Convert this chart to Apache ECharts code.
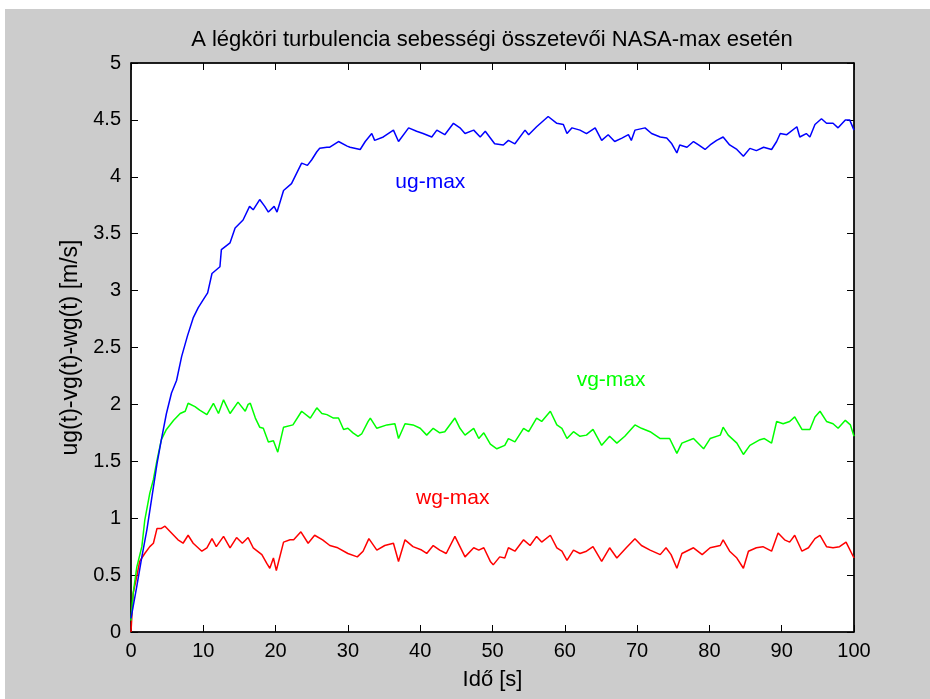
<!DOCTYPE html>
<html><head><meta charset="utf-8">
<script src="https://cdn.jsdelivr.net/npm/echarts@6/dist/echarts.min.js"></script>
<style>
html,body{margin:0;padding:0;background:#fff;}
#bg{position:absolute;left:5px;top:9px;width:925px;height:690px;background:#cccccc;}
#c{position:absolute;left:0;top:0;width:930px;height:699px;}
</style>
</head><body><div id="bg"></div><div id="c"></div>
<script>
const titleText = 'A légköri turbulencia sebességi összetevői NASA-max esetén';
const xName = 'Idő [s]';
const yName = 'ug(t)-vg(t)-wg(t) [m/s]';
const seriesNames = ['ug-max', 'vg-max', 'wg-max'];

const ugTime = [0,0.8,1.5,2.2,2.9,3.6,4.2,4.9,5.6,6.3,7.0,7.8,8.6,9.3,10.0,10.6,11.2,12.3,12.5,13.7,14.4,15.5,16.4,16.9,17.8,18.5,19.0,19.8,20.2,21.1,22.2,22.9,23.6,24.4,25.0,25.7,26.1,27.1,27.5,28.7,29.9,30.3,31.7,32.4,33.3,33.7,34.9,36.3,37.0,38.4,39.5,40.4,41.6,42.3,43.4,44.6,45.5,46.2,47.4,48.3,49.0,50.3,51.5,52.2,53.1,54.5,55.0,56.1,57.7,58.9,59.8,60.3,61.0,62.1,63.0,64.2,65.1,66.0,66.9,67.9,68.8,69.2,69.7,71.1,72.0,73.2,74.1,74.8,75.5,75.9,76.9,77.8,78.5,79.4,80.1,81.0,81.9,82.8,83.8,84.7,85.6,86.5,87.5,88.6,89.3,89.8,90.7,92.1,92.5,93.4,93.9,94.6,95.5,96.2,97.1,97.8,98.8,99.4,100];
const ugValue = [0.12,0.40,0.66,0.90,1.19,1.48,1.69,1.92,2.10,2.21,2.42,2.60,2.76,2.85,2.92,2.98,3.15,3.21,3.36,3.42,3.55,3.62,3.74,3.71,3.80,3.74,3.69,3.74,3.69,3.88,3.94,4.03,4.12,4.10,4.15,4.22,4.25,4.26,4.26,4.31,4.27,4.26,4.24,4.31,4.38,4.32,4.35,4.41,4.31,4.43,4.40,4.38,4.35,4.41,4.37,4.47,4.43,4.38,4.41,4.35,4.40,4.29,4.28,4.32,4.29,4.41,4.37,4.44,4.53,4.47,4.46,4.38,4.43,4.41,4.38,4.43,4.32,4.37,4.31,4.34,4.37,4.32,4.41,4.43,4.38,4.35,4.34,4.29,4.21,4.28,4.26,4.31,4.28,4.24,4.28,4.32,4.35,4.28,4.24,4.18,4.25,4.23,4.26,4.24,4.31,4.38,4.37,4.44,4.35,4.38,4.35,4.46,4.51,4.47,4.47,4.43,4.50,4.50,4.41];

const vgTime = [0,0.3,0.8,1.5,1.9,2.6,3.1,3.6,4.2,4.9,5.9,6.8,7.5,7.9,8.85,9.5,10.5,11.4,12.1,12.8,13.7,14.8,15.8,16.2,16.5,17.2,17.8,18.3,19.0,19.7,20.3,21.1,22.4,23.6,24.8,25.7,26.4,27.1,28.0,28.7,29.4,30.0,30.7,31.4,31.9,32.8,33.1,34.0,35.4,36.5,37.0,37.9,39.0,40.0,40.9,41.8,42.7,43.4,44.8,45.5,46.2,47.4,48.1,48.8,49.7,50.6,51.7,52.2,53.1,54.3,55.0,56.1,56.8,58.0,58.9,59.6,60.3,61.2,62.1,63.0,63.9,65.1,66.2,67.2,68.3,69.7,70.6,71.8,73.2,74.5,75.5,76.2,77.8,79.2,80.1,81.5,81.9,82.6,83.8,84.7,85.6,87.0,87.6,88.6,89.3,90.2,91.1,91.8,92.8,93.9,94.6,95.3,96.2,97.1,97.8,98.8,99.5,100];
const vgValue = [0.10,0.34,0.57,0.75,0.98,1.22,1.34,1.51,1.69,1.78,1.86,1.92,1.94,2.01,1.98,1.95,1.91,2.01,1.92,2.04,1.92,2.02,1.94,2.00,2.01,1.88,1.80,1.79,1.67,1.68,1.58,1.80,1.82,1.94,1.88,1.97,1.92,1.91,1.88,1.88,1.78,1.79,1.75,1.72,1.74,1.85,1.88,1.79,1.82,1.83,1.70,1.83,1.82,1.79,1.73,1.79,1.75,1.76,1.88,1.79,1.73,1.79,1.70,1.75,1.65,1.61,1.64,1.70,1.67,1.79,1.76,1.88,1.85,1.94,1.82,1.79,1.70,1.76,1.72,1.73,1.78,1.64,1.72,1.66,1.72,1.82,1.79,1.76,1.70,1.70,1.57,1.66,1.70,1.61,1.70,1.73,1.80,1.73,1.66,1.56,1.64,1.69,1.70,1.66,1.85,1.83,1.85,1.89,1.78,1.78,1.89,1.94,1.85,1.83,1.79,1.86,1.82,1.72];

const wgTime = [0,0.3,0.8,1.2,1.9,2.6,3.1,3.6,4.2,4.7,5.6,6.5,7.2,7.9,8.6,9.8,10.5,11.2,11.8,12.8,13.7,14.6,15.4,16.2,16.9,18.1,18.8,19.2,19.7,20.1,21.1,22.0,22.5,23.5,24.5,25.4,26.5,27.5,28.6,30.0,31.3,32.1,32.9,34.0,35.1,36.3,37.0,37.9,39.0,40.2,40.9,41.8,42.7,43.6,44.8,45.5,46.2,47.4,48.1,48.8,49.7,50.1,51.0,51.7,52.2,53.1,54.3,55.2,56.1,56.8,58.0,58.9,59.6,60.3,61.2,62.1,63.0,63.9,65.1,66.2,67.2,68.5,69.7,70.6,71.8,73.2,74.0,74.7,75.5,76.2,77.8,79.0,80.1,81.5,81.9,82.8,83.8,84.7,85.4,86.5,87.4,88.6,89.5,90.4,91.1,91.8,92.8,93.7,94.6,95.3,96.2,97.1,98.0,98.9,100];
const wgValue = [0,0.34,0.49,0.62,0.69,0.75,0.78,0.91,0.91,0.93,0.87,0.81,0.78,0.85,0.78,0.71,0.74,0.82,0.75,0.84,0.74,0.83,0.78,0.83,0.74,0.68,0.60,0.56,0.65,0.54,0.79,0.81,0.81,0.88,0.78,0.85,0.81,0.76,0.74,0.69,0.66,0.71,0.82,0.72,0.76,0.78,0.62,0.81,0.75,0.72,0.69,0.76,0.72,0.69,0.84,0.75,0.66,0.74,0.72,0.74,0.62,0.59,0.66,0.65,0.74,0.71,0.81,0.76,0.84,0.79,0.85,0.74,0.71,0.63,0.72,0.69,0.71,0.75,0.62,0.74,0.65,0.74,0.82,0.76,0.72,0.68,0.74,0.68,0.56,0.69,0.74,0.68,0.74,0.76,0.81,0.71,0.65,0.56,0.71,0.74,0.75,0.71,0.87,0.81,0.79,0.85,0.71,0.74,0.82,0.85,0.75,0.74,0.75,0.79,0.65];

const labelAnchors = [[41.4, 3.95], [66.4, 2.21], [44.5, 1.18]];
const colors = ['#0000ff', '#00ff00', '#ff0000'];

const FONT = '"Liberation Sans", Arial, Helvetica, sans-serif';
const zip = (a, b) => a.map((t, i) => [t, b[i]]);
const allData = [zip(ugTime, ugValue), zip(vgTime, vgValue), zip(wgTime, wgValue)];

const chart = echarts.init(document.getElementById('c'), null, {renderer: 'canvas'});
const tickCommon = {show: true, inside: true, length: 7, lineStyle: {color: '#000', width: 1}};
const lineCommon = {show: true, onZero: false, lineStyle: {color: '#000', width: 1.5}};

chart.setOption({
  animation: false,
  backgroundColor: 'transparent',
  grid: {left: 131, right: 76, top: 63, bottom: 67, show: true, backgroundColor: '#ffffff', borderColor: '#000', borderWidth: 1},
  graphic: [{
    type: 'text', x: 492, y: 40,
    style: {text: titleText, fill: '#000', font: '22px ' + FONT, textAlign: 'center', textVerticalAlign: 'middle'}
  }],
  xAxis: [
    {type: 'value', min: 0, max: 100, interval: 10, position: 'bottom',
     axisLine: lineCommon, axisTick: tickCommon, splitLine: {show: false},
     axisLabel: {color: '#000', fontSize: 20, fontFamily: FONT, margin: 9},
     name: xName, nameLocation: 'middle', nameGap: 37,
     nameTextStyle: {color: '#000', fontSize: 22, fontFamily: FONT}},
    {type: 'value', min: 0, max: 100, interval: 10, position: 'top',
     axisLine: lineCommon, axisTick: tickCommon, splitLine: {show: false}, axisLabel: {show: false}}
  ],
  yAxis: [
    {type: 'value', min: 0, max: 5, interval: 0.5, position: 'left',
     axisLine: lineCommon, axisTick: tickCommon, splitLine: {show: false},
     axisLabel: {color: '#000', fontSize: 20, fontFamily: FONT, margin: 10},
     name: yName, nameLocation: 'middle', nameGap: 46, nameRotate: 90,
     nameTextStyle: {color: '#000', fontSize: 23, fontFamily: FONT}},
    {type: 'value', min: 0, max: 5, interval: 0.5, position: 'right',
     axisLine: lineCommon, axisTick: tickCommon, splitLine: {show: false}, axisLabel: {show: false}}
  ],
  series: allData.map((d, i) => ({
    name: seriesNames[i], type: 'line', data: d, showSymbol: false, symbol: 'none',
    lineStyle: {color: colors[i], width: 1.5}, itemStyle: {color: colors[i]},
    z: 3 - i,
    markPoint: {
      symbol: 'circle', symbolSize: 1, itemStyle: {color: 'rgba(0,0,0,0)'},
      label: {show: true, position: 'inside', formatter: seriesNames[i], color: colors[i], fontSize: 21, fontFamily: FONT},
      data: [{coord: labelAnchors[i]}]
    }
  }))
});
</script>
</body></html>
